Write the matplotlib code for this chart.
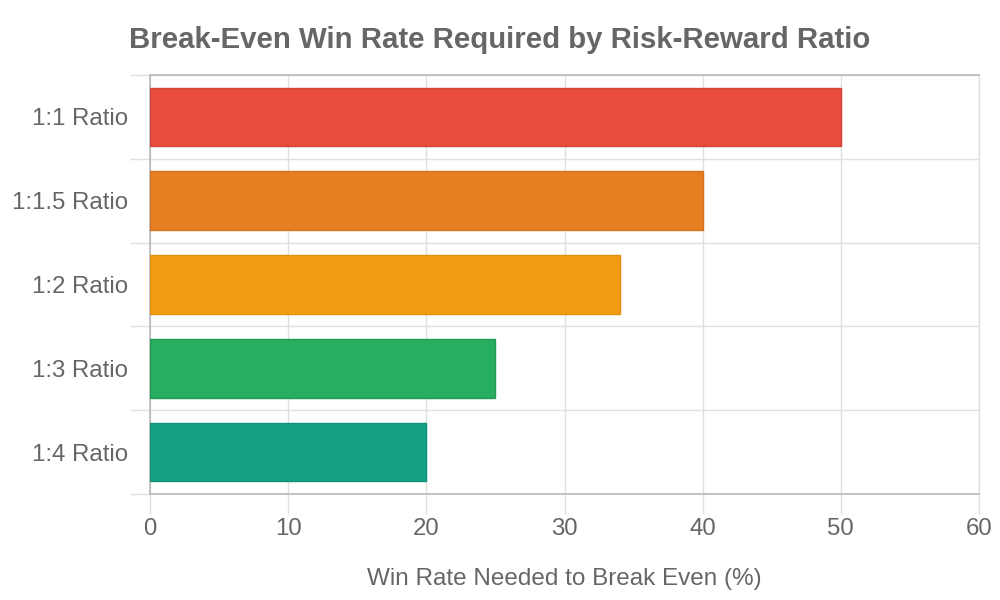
import matplotlib
matplotlib.use("Agg")
import matplotlib.pyplot as plt
from matplotlib.ticker import FixedLocator
import numpy as np

categories = ["1:1 Ratio", "1:1.5 Ratio", "1:2 Ratio", "1:3 Ratio", "1:4 Ratio"]
win_rates = [50, 40, 34, 25, 20]
bar_colors = ["#e74c3c", "#e67e22", "#f39c12", "#27ae60", "#16a085"]
edge_colors = ["#d0443a", "#d27220", "#e0900f", "#229955", "#12917a"]
x_ticks = [0, 10, 20, 30, 40, 50, 60]

plt.rcParams['font.family'] = ['Liberation Sans', 'DejaVu Sans']
TEXT = "#666666"

fig = plt.figure(figsize=(10, 6), dpi=100)
ax = fig.add_axes([0.15, 1 - 494 / 600, 0.829, (494 - 75) / 600])

y = np.arange(len(categories))
ax.barh(y, win_rates, height=0.7, color=bar_colors, edgecolor=edge_colors,
        linewidth=1.0, zorder=3)
ax.set_xlim(0, 60)
ax.set_ylim(len(categories) - 0.5, -0.5)

ax.set_xticks(x_ticks)
ax.set_xticklabels([str(t) for t in x_ticks])
ax.set_yticks(y)
ax.set_yticklabels(categories)
ax.yaxis.set_minor_locator(FixedLocator(np.arange(-0.5, len(categories), 1.0)))

ax.tick_params(axis='y', which='major', length=0, pad=16, labelsize=17.3, labelcolor=TEXT)
ax.tick_params(axis='y', which='minor', length=14.4, width=1, color="#e0e0e0")
ax.tick_params(axis='x', which='major', length=14.4, width=1, color="#e0e0e0",
               pad=3, labelsize=17.3, labelcolor=TEXT)

ax.grid(axis='x', which='major', color="#e0e0e0", linewidth=1, zorder=0)
ax.grid(axis='y', which='minor', color="#e0e0e0", linewidth=1, zorder=0)
ax.set_axisbelow(True)

for side in ["left", "bottom", "top"]:
    ax.spines[side].set_color("#b8b8b8")
    ax.spines[side].set_linewidth(1.2)
ax.spines["right"].set_color("#e0e0e0")
ax.spines["right"].set_linewidth(1)

ax.set_xlabel("Win Rate Needed to Break Even (%)", fontsize=17.5, color=TEXT, labelpad=20)
fig.text(0.5, 1 - 40 / 600, "Break-Even Win Rate Required by Risk-Reward Ratio",
         ha="center", va="center", fontsize=21.2, fontweight="bold", color=TEXT)

fig.savefig("out.png", dpi=100, facecolor="white")
